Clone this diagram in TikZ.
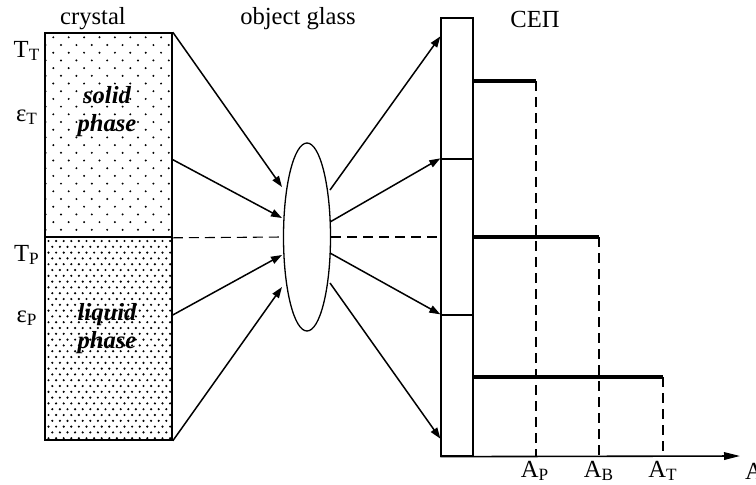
\documentclass[tikz,border=0pt]{standalone}
\usepackage{fontspec}
\setmainfont{Liberation Serif}
\usetikzlibrary{shapes.geometric, arrows.meta, positioning, calc}

\tikzset{
  ray/.style={line width=0.75pt, -{Triangle[length=5.5pt,width=3.8pt]}},
  guide/.style={line width=0.55pt, dash pattern=on 5pt off 3pt},
  level/.style={line width=1.7pt},
  cellbox/.style={draw, line width=0.65pt, inner sep=0pt, minimum width=16pt},
  phasebox/.style={draw, line width=0.8pt, inner sep=0pt, minimum width=63.5pt},
  lbl/.style={font=\fontsize{12.3}{14}\selectfont},
  phaselbl/.style={font=\fontsize{12.3}{14}\selectfont\bfseries\itshape, align=center}
}

\begin{document}
\begin{tikzpicture}[x=0.5pt,y=-0.5pt]
  \path[use as bounding box] (0,0) rectangle (756,484);

  % crystal: dotted fill
  \begin{scope}
    \clip (45,33) rectangle (172,237);
    \foreach \r in {0,...,26}{
      \pgfmathsetmacro{\yy}{37.3+7.7*\r}
      \pgfmathsetmacro{\xo}{53.3+7.7*mod(\r,2)-15.4}
      \foreach \c in {0,...,9}
        \fill ({\xo+15.4*\c},\yy) circle (0.55pt);
    }
  \end{scope}
  \begin{scope}
    \clip (45,237) rectangle (172,440);
    \foreach \r in {0,...,35}{
      \pgfmathsetmacro{\yy}{241+5.8*\r}
      \pgfmathsetmacro{\xo}{48.5+3.8*mod(\r,2)-7.6}
      \foreach \c in {0,...,18}
        \fill ({\xo+7.6*\c},\yy) circle (0.6pt);
    }
  \end{scope}

  \node[phasebox, minimum height=102pt] (solid) at (108.5,135) {};
  \node[phasebox, minimum height=101.5pt] (liquid) at (108.5,338.5) {};
  \node[phaselbl] (solidtxt) at (107,112) {solid\\phase};
  \node[phaselbl] (liquidtxt) at (107,329) {liquid\\phase};

  \node[lbl] (crystal) at (93,19) {crystal};
  \node[lbl] (tt) at (27,51) {T\textsubscript{Т}};
  \node[lbl] (et) at (27,117) {ε\textsubscript{Т}};
  \node[lbl] (tp) at (27,255) {T\textsubscript{Р}};
  \node[lbl] (ep) at (27,318) {ε\textsubscript{Р}};

  % lens
  \node[lbl] (glass) at (298,19) {object glass};
  \node[draw, ellipse, line width=0.65pt, minimum width=23.5pt, minimum height=94pt, inner sep=0pt] (lens) at (307,237) {};

  % screen
  \node[lbl] (sep) at (535,19) {СЕП};
  \node[cellbox, minimum height=70.5pt] (cell1) at (457,88.5) {};
  \node[cellbox, minimum height=78pt] (cell2) at (457,237) {};
  \node[cellbox, minimum height=70.5pt] (cell3) at (457,385.5) {};

  \coordinate (in1) at (282,187);
  \coordinate (in2) at (282,218);
  \coordinate (in3) at (282,255);
  \coordinate (in4) at (282,287);
  \coordinate (out1) at (330,190);
  \coordinate (out2) at (330,222);
  \coordinate (out3) at (330,253);
  \coordinate (out4) at (330,283);

  \draw[ray] (solid.north east) -- (in1);
  \draw[ray] ($(solid.north east)!0.62!(solid.south east)$) -- (in2);
  \draw[ray] ($(liquid.north east)!0.385!(liquid.south east)$) -- (in3);
  \draw[ray] (liquid.south east) -- (in4);

  \draw[ray] (out1) -- ($(cell1.north west)+(0,19)$);
  \draw[ray] (out2) -- (cell2.north west);
  \draw[ray] (out3) -- (cell3.north west);
  \draw[ray] (out4) -- ($(cell3.south west)+(0,-18)$);

  \draw[guide] (solid.south east) -- (lens.west);
  \draw[guide] (lens.east) -- (lens.east -| cell2.west);

  % output axis
  \coordinate (axisend) at (740,456);
  \draw[line width=0.8pt, -{Triangle[length=8pt,width=3.8pt]}] (cell3.south west) -- (axisend);

  \coordinate (ap) at (536,456);
  \coordinate (ab) at (599,456);
  \coordinate (at) at (663,456);
  \draw[level] (cell1.east |- 0,81) -- (ap |- 0,81);
  \draw[level] (cell2.east) -- (ab |- cell2.east);
  \draw[level] (cell3.east |- 0,377) -- (at |- 0,377);
  \draw[guide] (ap |- 0,81) -- (ap);
  \draw[guide] (ab |- cell2.east) -- (ab);
  \draw[guide] (at |- 0,377) -- (at);

  \node[lbl] (apl) at (535,471) {A\textsubscript{Р}};
  \node[lbl] (abl) at (599,471) {A\textsubscript{В}};
  \node[lbl] (atl) at (663,471) {A\textsubscript{Т}};
  \node[lbl] (al) at (754,471) {A};
\end{tikzpicture}
\end{document}
